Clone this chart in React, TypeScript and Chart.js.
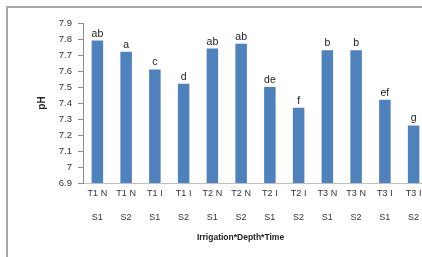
import React, { useEffect, useRef } from "react";
import { Chart, registerables } from "chart.js";

Chart.register(...registerables);

const categories: string[][] = [
  ["T1 N", "S1"], ["T1 N", "S2"], ["T1 I", "S1"], ["T1 I", "S2"],
  ["T2 N", "S1"], ["T2 N", "S2"], ["T2 I", "S1"], ["T2 I", "S2"],
  ["T3 N", "S1"], ["T3 N", "S2"], ["T3 I", "S1"], ["T3 I", "S2"],
];
const phValues: number[] = [7.79, 7.72, 7.61, 7.52, 7.74, 7.77, 7.5, 7.37, 7.73, 7.73, 7.42, 7.26];
const letters: string[] = ["ab", "a", "c", "d", "ab", "ab", "de", "f", "b", "b", "ef", "g"];
const yTickValues: number[] = [6.9, 7, 7.1, 7.2, 7.3, 7.4, 7.5, 7.6, 7.7, 7.8, 7.9];
const xTitle = "Irrigation*Depth*Time";
const yTitle = "pH";

const FONT = "'Liberation Sans', Arial, sans-serif";

export default function App() {
  const ref = useRef<HTMLCanvasElement | null>(null);
  useEffect(() => {
    if (!ref.current) return;
    const labelPlugin = {
      id: "barLetters",
      afterDatasetsDraw(chart: any) {
        const ctx = chart.ctx;
        const meta = chart.getDatasetMeta(0);
        ctx.save();
        ctx.font = `10.5px ${FONT}`;
        ctx.fillStyle = "#222";
        ctx.textAlign = "center";
        ctx.textBaseline = "alphabetic";
        meta.data.forEach((bar: any, i: number) => {
          ctx.fillText(letters[i], bar.x, bar.y - 4);
        });
        const ca = chart.chartArea;
        ctx.font = `bold 8.5px ${FONT}`;
        ctx.textBaseline = "middle";
        ctx.fillText(xTitle, (ca.left + ca.right) / 2 - 15, ca.bottom + 55);
        ctx.restore();
      },
    };
    const chart = new Chart(ref.current, {
      type: "bar",
      data: {
        labels: categories,
        datasets: [
          {
            data: phValues,
            backgroundColor: "#4F81BD",
            borderWidth: 0,
            barPercentage: 0.4,
            categoryPercentage: 1,
          },
        ],
      },
      options: {
        animation: false,
        responsive: false,
        devicePixelRatio: 1,
        layout: { padding: { left: 0, right: 12, top: 23, bottom: 0 } },
        plugins: { legend: { display: false }, tooltip: { enabled: false } },
        scales: {
          x: {
            grid: { display: false, drawTicks: false },
            border: { display: true, color: "#c0c0c0" },
            ticks: {
              color: "#333",
              font: { family: FONT, size: 9, lineHeight: 2.667 },
              padding: -1,
              maxRotation: 0,
              autoSkip: false,
            },
            afterFit(scale: any) {
              scale.height = 74;
            },
          },
          y: {
            min: 6.9,
            max: 7.9,
            afterBuildTicks(scale: any) {
              scale.ticks = yTickValues.map((v) => ({ value: v }));
            },
            grid: { display: true, drawOnChartArea: false, drawTicks: true, tickLength: 5, color: "#8c8c8c" },
            border: { display: true, color: "#8c8c8c" },
            ticks: {
              color: "#333",
              font: { family: FONT, size: 9.5 },
              padding: 6,
              callback: (v: any) => String(Number(Number(v).toFixed(1))),
            },
            title: {
              display: true,
              text: yTitle,
              color: "#222",
              font: { family: FONT, size: 10, weight: "bold" },
              padding: { top: 36, bottom: 0 },
            },
            afterFit(scale: any) {
              scale.width = 83;
            },
          },
        },
      },
      plugins: [labelPlugin],
    });
    return () => chart.destroy();
  }, []);
  return (
    <div style={{ position: "fixed", left: 0, top: 0, width: 422, height: 257, overflow: "hidden", background: "#fff" }}>
      <div style={{ position: "absolute", left: 6, top: 6, width: 500, height: 400, border: "2px solid #a8a8a8" }} />
      <div style={{ position: "absolute", left: 0, top: 0, width: 440, height: 257 }}>
        <canvas ref={ref} width={440} height={257} style={{ width: 440, height: 257, display: "block" }} />
      </div>
    </div>
  );
}
